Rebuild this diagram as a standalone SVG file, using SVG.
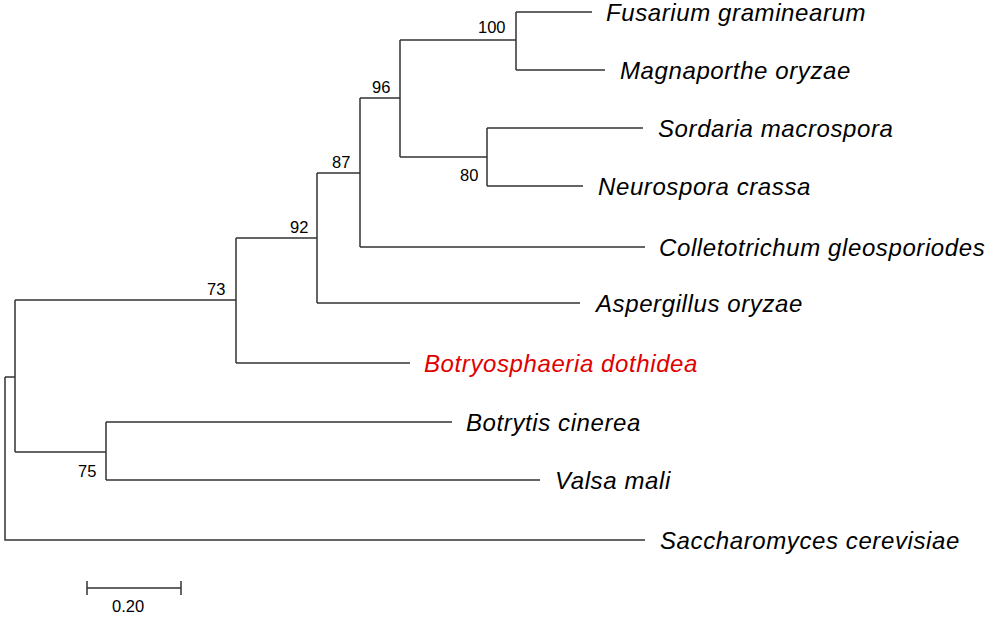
<svg xmlns="http://www.w3.org/2000/svg" width="995" height="617" viewBox="0 0 995 617">
<style>
.b{stroke:#333;stroke-width:1.5;fill:none}
.t{font-family:"Liberation Sans",Arial,sans-serif;font-style:italic;font-size:24px;letter-spacing:0.6px;fill:#000}
.s{font-family:"Liberation Sans",Arial,sans-serif;font-size:16.5px;fill:#000}
</style>
<rect width="995" height="617" fill="#fff"/>
<g id="connectors">
<path class="b" d="M5,377V540H645M5,377H15M15,300V452M15,300H236V238M236,363V238M236,363H410M236,238H317V173M317,303V173M317,303H580M317,173H360V98M360,247V98M360,247H645M360,98H400V40M400,157V40M400,40H516V12M516,70V12M516,12H592M516,70H605M400,157H487V128M487,186V128M487,128H643M487,186H583M15,452H106V422M106,480V422M106,422H452M106,480H540"/>
</g>
<g id="n-fus"><text class="t" x="606" y="21">Fusarium graminearum</text></g>
<g id="n-mag"><text class="t" x="620" y="79">Magnaporthe oryzae</text></g>
<g id="n-sor"><text class="t" x="658" y="137">Sordaria macrospora</text></g>
<g id="n-neu"><text class="t" x="598" y="195">Neurospora crassa</text></g>
<g id="n-col"><text class="t" x="659" y="256">Colletotrichum gleosporiodes</text></g>
<g id="n-asp"><text class="t" x="596" y="312">Aspergillus oryzae</text></g>
<g id="n-bot"><text class="t" x="424" y="372" style="fill:#e00000">Botryosphaeria dothidea</text></g>
<g id="n-btc"><text class="t" x="466" y="431">Botrytis cinerea</text></g>
<g id="n-val"><text class="t" x="555" y="489">Valsa mali</text></g>
<g id="n-sac"><text class="t" x="660" y="549">Saccharomyces cerevisiae</text></g>
<g id="support">
<text class="s" x="478" y="33">100</text>
<text class="s" x="372" y="93">96</text>
<text class="s" x="332" y="168">87</text>
<text class="s" x="290" y="233">92</text>
<text class="s" x="207" y="295">73</text>
<text class="s" x="460" y="181">80</text>
<text class="s" x="78" y="477">75</text>
</g>
<g id="scale">
<path class="b" d="M87,588H181M87,581V595M181,581V595"/>
<text class="s" x="112" y="612">0.20</text>
</g>
</svg>
